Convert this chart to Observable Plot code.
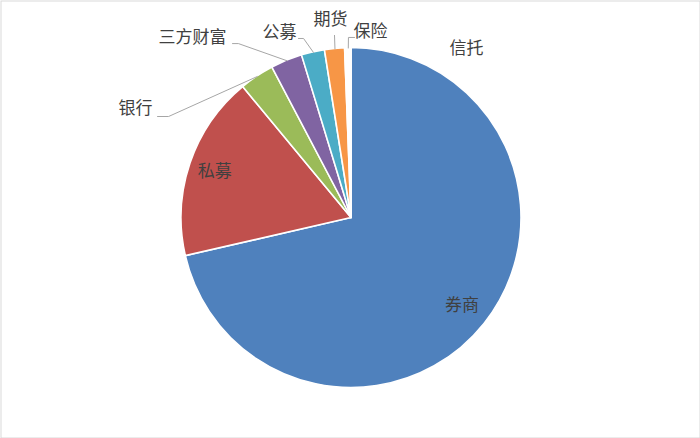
<!DOCTYPE html>
<html><head><meta charset="utf-8">
<script src="https://cdn.jsdelivr.net/npm/d3@7"></script>
<script src="https://cdn.jsdelivr.net/npm/@observablehq/plot@0.6"></script>
<style>body{margin:0;background:#fff}</style>
</head><body><div id="chart"></div>
<script>
// ---- data ----
const categories = ["券商", "私募", "银行", "三方财富", "公募", "期货", "保险", "信托"];
const shares = [71.4, 17.6, 3.3, 3.0, 2.2, 1.9, 0.6, 0];
const palette = ["#4F81BD", "#C0504D", "#9BBB59", "#8064A2", "#4BACC6", "#F79646", "#FFFFFF", "#FFFFFF"];

// ---- layout (unit-circle coordinates, separate from data) ----
const insideRadius = {"券商": 0.83, "私募": 0.85};
const outsideLayout = {
  "银行":     {label: [-1.271, 0.644], path: [[-1.076, 0.597], [-1.141, 0.597]]},
  "三方财富": {label: [-0.935, 1.062], path: [[-0.665, 1.026], [-0.700, 1.026]]},
  "公募":     {label: [-0.424, 1.088], path: [[-0.282, 1.056], [-0.312, 1.056]]},
  "期货":     {label: [-0.124, 1.165], path: [[-0.100, 1.074]]},
  "保险":     {label: [0.112, 1.097],  path: [[-0.018, 1.062], [0.018, 1.062]]},
  "信托":     {label: [0.676, 0.997],  path: []}
};

const rows = categories.map((c, i) => ({category: c, share: shares[i]}));
const arcs = d3.pie().sort(null).value(d => d.share)(rows);
const slices = arcs.map(a => ({category: a.data.category, share: a.data.share,
  start: a.startAngle, end: a.endAngle, mid: (a.startAngle + a.endAngle) / 2}));
const polar = (ang, r) => [r * Math.sin(ang), r * Math.cos(ang)];
const color = d3.scaleOrdinal(categories, palette);

const labels = slices.map(s => {
  if (insideRadius[s.category] != null) {
    const [x, y] = polar(s.mid, insideRadius[s.category]);
    return {category: s.category, x, y};
  }
  const [x, y] = outsideLayout[s.category].label;
  return {category: s.category, x, y};
});

const leaders = [];
slices.forEach(s => {
  const o = outsideLayout[s.category];
  if (!o || o.path.length === 0) return;
  const [x0, y0] = polar(s.mid, 1);
  leaders.push({category: s.category, x: x0, y: y0});
  o.path.forEach(([x, y]) => leaders.push({category: s.category, x, y}));
});

function pieMark(index, scales) {
  const cx = scales.x(0), cy = scales.y(0), r = scales.x(1) - scales.x(0);
  const arc = d3.arc().innerRadius(0).outerRadius(r);
  const g = d3.create("svg:g").attr("transform", `translate(${cx},${cy})`);
  g.selectAll("path").data(slices).join("path")
    .attr("d", d => arc({startAngle: d.start, endAngle: d.end}))
    .attr("fill", d => color(d.category))
    .attr("stroke", "#fff").attr("stroke-width", 1.6).attr("stroke-linejoin", "round");
  return g.node();
}

const chart = Plot.plot({
  width: 700, height: 438, margin: 0,
  x: {domain: [-1, 1], range: [181, 521], axis: null},
  y: {domain: [-1, 1], range: [387.5, 47.5], axis: null},
  style: {background: "#fff", fontFamily: "'Noto Sans CJK SC', sans-serif"},
  marks: [
    Plot.frame({stroke: "#d9d9d9", inset: 0.5}),
    pieMark,
    Plot.line(leaders, {x: "x", y: "y", z: "category", stroke: "#a6a6a6", strokeWidth: 1}),
    Plot.text(labels, {x: "x", y: "y", text: "category", fontSize: 17, fill: "#404040"})
  ]
});
document.getElementById("chart").appendChild(chart);
</script>
</body></html>
